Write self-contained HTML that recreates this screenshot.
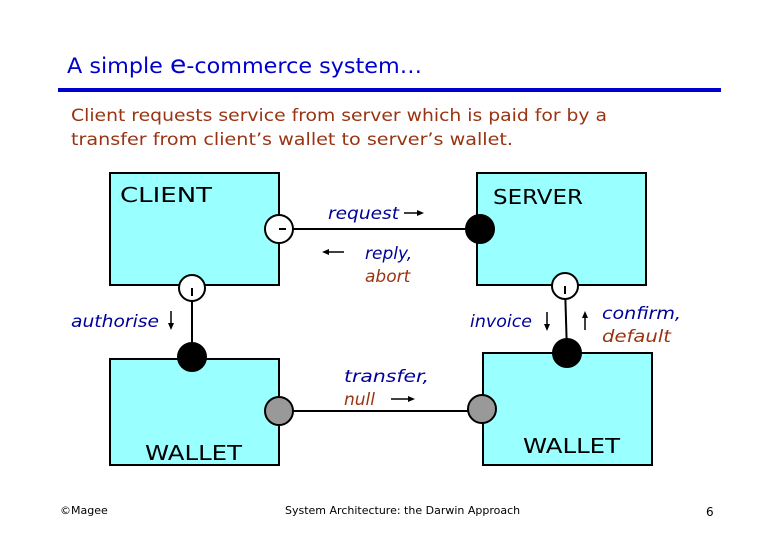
<!DOCTYPE html>
<html><head><meta charset="utf-8"><style>
html,body{margin:0;padding:0;background:#fff;}
svg{display:block;}
text{font-family:"DejaVu Sans","Liberation Sans",sans-serif;}
</style></head><body>
<svg width="780" height="540" viewBox="0 0 780 540" xmlns="http://www.w3.org/2000/svg">
<text x="67" y="73" font-size="21" fill="#0000cc" textLength="355" lengthAdjust="spacingAndGlyphs">A simple <tspan font-size="25">e</tspan>-commerce system…</text>
<rect x="58" y="88" width="663" height="4" fill="#0000cc"/>
<text x="71" y="121" font-size="17" fill="#993311" textLength="536" lengthAdjust="spacingAndGlyphs">Client requests service from server which is paid for by a</text>
<text x="71" y="145" font-size="17" fill="#993311" textLength="442" lengthAdjust="spacingAndGlyphs">transfer from client’s wallet to server’s  wallet.</text>

<g stroke="#000" stroke-width="2">
<rect x="110" y="173" width="169" height="112" fill="#99ffff"/>
<rect x="477" y="173" width="169" height="112" fill="#99ffff"/>
<rect x="110" y="359" width="169" height="106" fill="#99ffff"/>
<rect x="483" y="353" width="169" height="112" fill="#99ffff"/>
<line x1="279" y1="229" x2="480" y2="229"/>
<line x1="279" y1="411" x2="482" y2="411"/>
<line x1="192" y1="288" x2="192" y2="357"/>
<line x1="565" y1="286" x2="567" y2="353"/>
<circle cx="279" cy="229" r="14" fill="#fff"/>
<circle cx="480" cy="229" r="14" fill="#000"/>
<circle cx="192" cy="288" r="13" fill="#fff"/>
<circle cx="192" cy="357" r="14" fill="#000"/>
<circle cx="565" cy="286" r="13" fill="#fff"/>
<circle cx="567" cy="353" r="14" fill="#000"/>
<circle cx="279" cy="411" r="14" fill="#999"/>
<circle cx="482" cy="409" r="14" fill="#999"/>
</g>
<line x1="279" y1="229" x2="286" y2="229" stroke="#000" stroke-width="2"/>
<line x1="192" y1="288" x2="192" y2="296" stroke="#000" stroke-width="2"/>
<line x1="565" y1="286" x2="565" y2="294" stroke="#000" stroke-width="2"/>

<g font-size="20" fill="#000">
<text x="120" y="202" textLength="92" lengthAdjust="spacingAndGlyphs">CLIENT</text>
<text x="493" y="204" textLength="90" lengthAdjust="spacingAndGlyphs">SERVER</text>
<text x="145" y="460" textLength="97" lengthAdjust="spacingAndGlyphs">WALLET</text>
<text x="523" y="453" textLength="97" lengthAdjust="spacingAndGlyphs">WALLET</text>
</g>

<g font-size="17" font-style="italic">
<text x="328" y="219" fill="#000099" textLength="71" lengthAdjust="spacingAndGlyphs">request</text>
<text x="365" y="259" fill="#000099">reply,</text>
<text x="365" y="282" fill="#993311">abort</text>
<text x="71" y="327" fill="#000099" textLength="88" lengthAdjust="spacingAndGlyphs">authorise</text>
<text x="470" y="327" fill="#000099" textLength="62" lengthAdjust="spacingAndGlyphs">invoice</text>
<text x="602" y="319" fill="#000099" textLength="79" lengthAdjust="spacingAndGlyphs">confirm,</text>
<text x="602" y="342" fill="#993311" textLength="69" lengthAdjust="spacingAndGlyphs">default</text>
<text x="344" y="382" fill="#000099" textLength="85" lengthAdjust="spacingAndGlyphs">transfer,</text>
<text x="344" y="405" fill="#993311">null</text>
</g>

<g stroke="#000" stroke-width="1.5" fill="#000">
<line x1="404" y1="213" x2="420" y2="213"/><path d="M424 213 L417 210 L417 216Z" stroke="none"/>
<line x1="327" y1="252" x2="344" y2="252"/><path d="M322 252 L329 249 L329 255Z" stroke="none"/>
<line x1="391" y1="399" x2="410" y2="399"/><path d="M415 399 L408 396 L408 402Z" stroke="none"/>
<line x1="171" y1="311" x2="171" y2="325"/><path d="M171 330 L168 323 L174 323Z" stroke="none"/>
<line x1="547" y1="312" x2="547" y2="326"/><path d="M547 331 L544 324 L550 324Z" stroke="none"/>
<line x1="585" y1="316" x2="585" y2="330"/><path d="M585 311 L582 318 L588 318Z" stroke="none"/>
</g>

<g font-family="Liberation Serif,serif" font-size="11" fill="#000">
<text x="60" y="514" font-family="Liberation Serif,serif">©Magee</text>
<text x="285" y="514" font-family="Liberation Serif,serif">System Architecture: the Darwin Approach</text>
<text x="706" y="516" font-family="Liberation Serif,serif" font-size="12">6</text>
</g>
</svg>
</body></html>
